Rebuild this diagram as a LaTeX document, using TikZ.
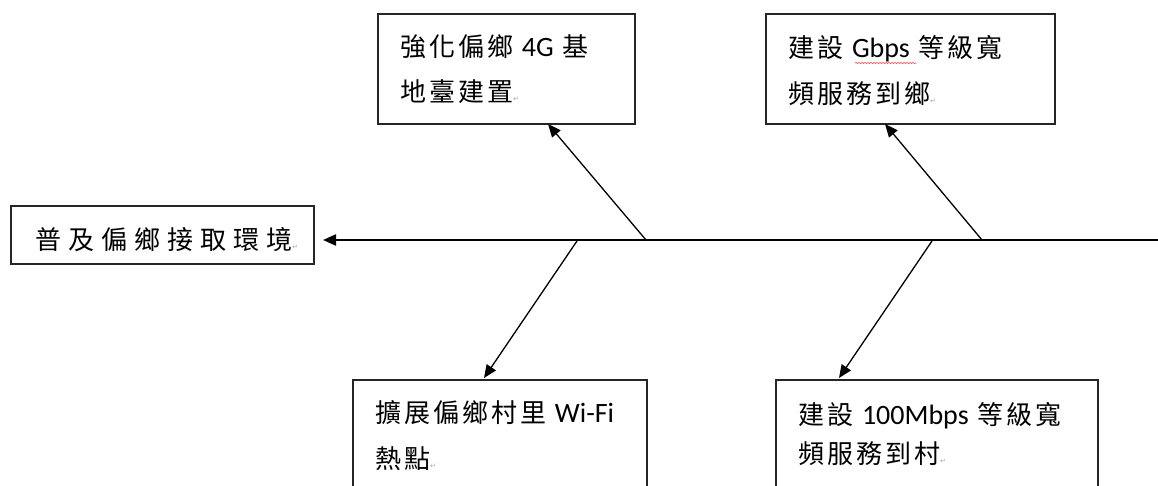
\documentclass[tikz,border=0pt]{standalone}
\usepackage{fontspec}
\usetikzlibrary{arrows.meta,decorations.pathmorphing}
\newfontfamily\cjfont{Noto Sans CJK TC}[LetterSpace=11.5]
\newfontfamily\cjmain{Noto Sans CJK TC}[LetterSpace=27]
\newfontfamily\latinf{Carlito}
\newfontfamily\markfont{DejaVu Sans}
\newcommand\parmark{{\markfont\color{gray!70}\fontsize{7}{7}\selectfont ↵}}
\begin{document}
\begin{tikzpicture}[x=1pt,y=-1pt,
  box/.style={draw=black!85,line width=2pt,rectangle,inner sep=0pt,anchor=north west},
  txt/.style={anchor=west,inner sep=0pt,font=\fontsize{26}{26}\selectfont\cjfont},
  lat/.style={},
  spine/.style={line width=2.2pt,draw=black,-{Triangle[length=13pt,width=11pt]}},
  branch/.style={line width=1.3pt,draw=black,-{Triangle[length=13pt,width=11pt]}}]
\useasboundingbox (0,0) rectangle (1158,486);
\clip (0,0) rectangle (1158,486);
\fill[white] (0,0) rectangle (1158,486);
% boxes
\node[box,minimum width=303pt,minimum height=58pt] (main) at (10,205) {};
\node[box,minimum width=257pt,minimum height=110pt] (tl) at (377,13) {};
\node[box,minimum width=289pt,minimum height=110pt] (tr) at (765,13) {};
\node[box,minimum width=294pt,minimum height=140pt] (bl) at (352,379) {};
\node[box,minimum width=322pt,minimum height=140pt] (br) at (775,379) {};
% texts
\newcommand\La[1]{{\latinf\fontsize{28}{28}\selectfont #1}}
\node[txt,font=\fontsize{26}{26}\selectfont\cjmain] (mainT) at (35,240) {普及偏鄉接取環境\parmark};
\node[txt] (tl1) at (400,47) {強化偏鄉 \La{4G} 基};
\node[txt] (tl2) at (400,92) {地臺建置\parmark};
\node[txt] (tr1) at (788,49) {建設 \La{Gbps} 等級寬};
\node[txt] (tr2) at (788,94) {頻服務到鄉\parmark};
\node[txt] (bl1) at (375,413) {擴展偏鄉村里 \La{Wi-Fi}};
\node[txt] (bl2) at (375,459) {熱點\parmark};
\node[txt] (br1) at (798,416) {建設 \La{100Mbps} 等級寬};
\node[txt] (br2) at (798,454) {頻服務到村\parmark};
% spell-check underline
\coordinate (u1) at (855,63);
\coordinate (u2) at (916,63);
\draw[red!70,line width=0.6pt,decorate,decoration={snake,amplitude=0.7pt,segment length=3pt}] (u1) -- (u2);
% spine
\coordinate (R) at (1158,240);
\draw[spine,shorten >=8pt] (R) -- (main.east |- R);
% branches
\coordinate (s1) at (646,240);
\coordinate (t1) at (548,124);
\coordinate (s2) at (982,240);
\coordinate (t2) at (885,124);
\coordinate (s3) at (577,241);
\coordinate (t3) at (484,378);
\coordinate (s4) at (932,241);
\coordinate (t4) at (839,378);
\draw[branch] (s1) -- (t1);
\draw[branch] (s2) -- (t2);
\draw[branch] (s3) -- (t3);
\draw[branch] (s4) -- (t4);
\end{tikzpicture}
\end{document}
